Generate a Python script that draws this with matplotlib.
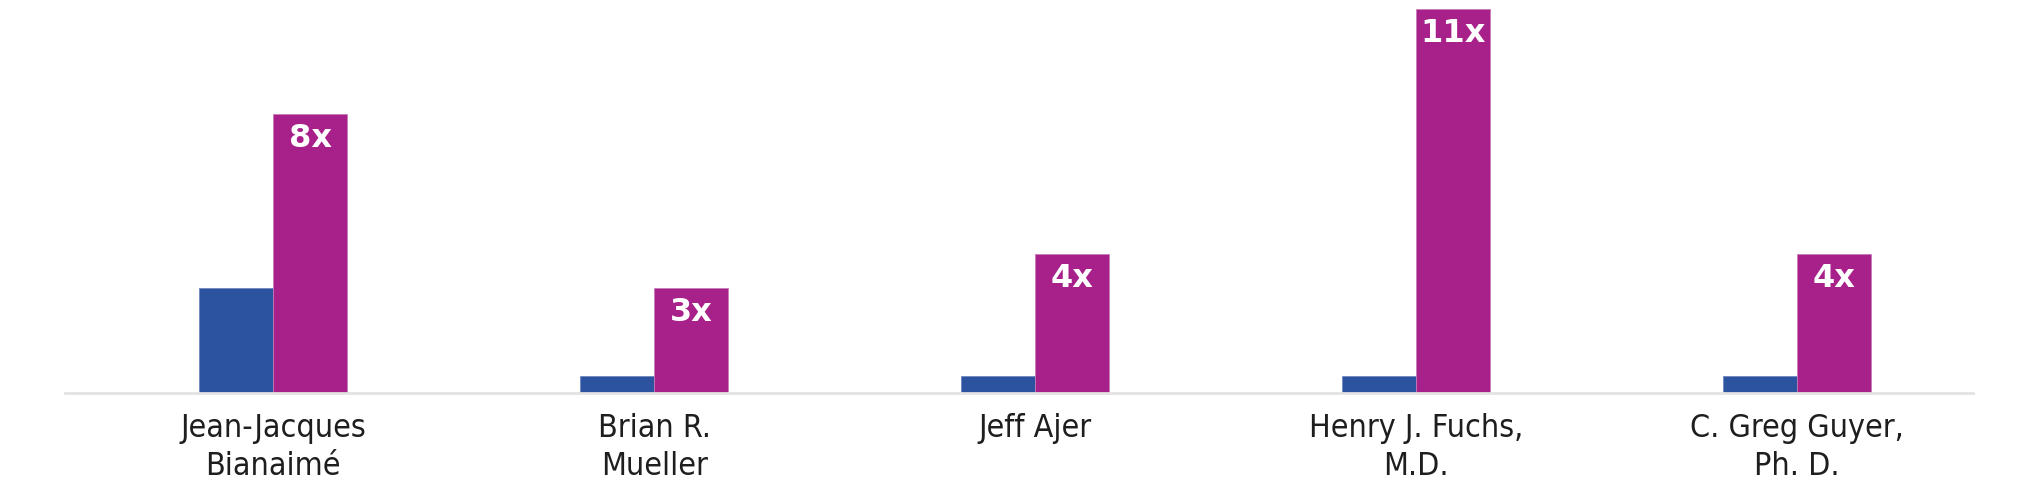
import numpy as np
import matplotlib
matplotlib.use("Agg")
import matplotlib.pyplot as plt

names = ["Jean-Jacques\nBianaimé", "Brian R.\nMueller", "Jeff Ajer",
         "Henry J. Fuchs,\nM.D.", "C. Greg Guyer,\nPh. D."]
base_vals = [3, 0.5, 0.5, 0.5, 0.5]
multi_vals = [8, 3, 4, 11, 4]
multi_labels = ["8x", "3x", "4x", "11x", "4x"]

BLUE = "#2B539F"
MAGENTA = "#A8218B"

fig = plt.figure(figsize=(20.29, 4.86), dpi=100)
ax = fig.add_axes([0.032, 0.191, 0.9405, 0.809])

x = np.arange(len(names))
w = 0.194
ax.bar(x - w / 2, base_vals, w, color=BLUE, edgecolor="#6f86c0", linewidth=0.6)
bars = ax.bar(x + w / 2, multi_vals, w, color=MAGENTA, edgecolor="#c77bb8", linewidth=0.6)

for b, lab in zip(bars, multi_labels):
    ax.annotate(lab, (b.get_x() + b.get_width() / 2, b.get_height()),
                xytext=(0, -9), textcoords="offset pixels",
                ha="center", va="top", color="white", fontsize=23,
                fontweight="bold", family=["DejaVu Sans"])

ax.set_xlim(-0.547, 4.462)
ax.set_ylim(0, 11.26)
ax.set_xticks(x)
ax.set_xticklabels(names, fontsize=23, linespacing=1.3, fontstretch="condensed",
                   family=["DejaVu Sans"], color="#1e1e1e")
ax.tick_params(axis="x", length=0, pad=14)
ax.set_yticks([])
for s in ["top", "right", "left"]:
    ax.spines[s].set_visible(False)
ax.spines["bottom"].set_color("#e3e3e3")
ax.spines["bottom"].set_linewidth(2)

fig.savefig("out.png", dpi=100)
